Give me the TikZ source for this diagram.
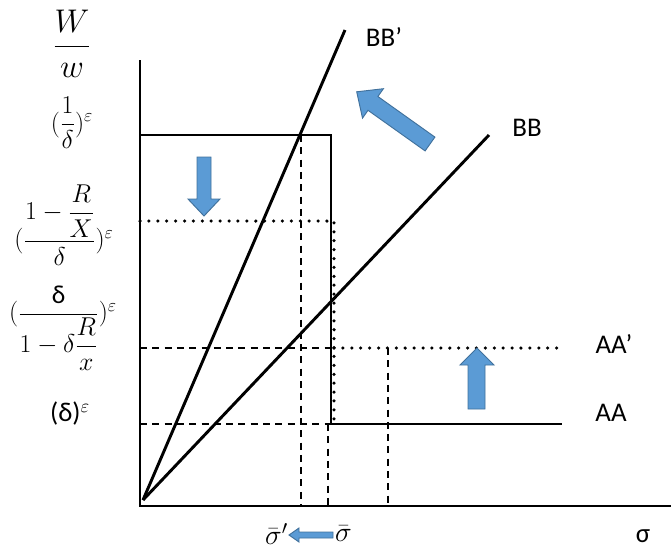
\RequirePackage{fix-cm}
\documentclass[tikz,border=0pt]{standalone}
\usepackage{amsmath}
\usepackage{fontspec}
\setmainfont{Carlito}
\usepackage{tikz}
\usepackage{xcolor}
\definecolor{Bleu}{HTML}{5B9BD5}
\definecolor{BleuFonce}{HTML}{41719C}

\begin{document}
\begin{tikzpicture}[x=0.03cm,y=-0.03cm,
  axe/.style={line width=1.6pt},
  courbe/.style={line width=2.5pt},
  tirets/.style={line width=1.7pt,dash pattern=on 6pt off 4.5pt},
  pointilles/.style={line width=3pt,line cap=round,dash pattern=on 0pt off 7.6pt},
  fleche/.style={fill=Bleu,draw=BleuFonce,line width=0.8pt},
  etiq/.style={font=\fontsize{23}{26}\selectfont},
  maths/.style={font=\fontsize{22}{26}\selectfont},
  sigmabar/.style={font=\fontsize{24}{27}\selectfont,inner sep=0pt}]
\useasboundingbox (0,0) rectangle (671,549);

% Axes
\coordinate (O) at (140,506);
\coordinate (Ohaut) at (140,60);
\coordinate (Odroite) at (671,506);
\draw[axe] (Ohaut) -- (O) -- (Odroite);

% Droites BB et BB'
\coordinate (S) at (143,500);
\coordinate (BBp) at (345,30);
\coordinate (BB) at (489,135);
\draw[courbe] (S) -- (BBp);
\draw[courbe] (S) -- (BB);
\node[etiq] (lbbp) at (384,37) {BB’};
\node[etiq] (lbb) at (527,128) {BB};

% Courbe AA (trait plein)
\draw[courbe] (140,135) -- (331,135) -- (331,424) -- (562,424);
\node[etiq] (laa) at (611,413) {AA};

% Courbe AA' (pointillés)
\draw[pointilles] (140,221) -- (334,221) -- (334,424);
\draw[pointilles] (334,348) -- (562,348);
\node[etiq] (laap) at (614,344) {AA’};

% Tirets
\draw[tirets] (140,348) -- (331,348);
\draw[tirets] (140,424) -- (331,424);
\draw[tirets] (301,135) -- (301,506);
\draw[tirets] (328,424) -- (328,506);
\draw[tirets] (388,348) -- (388,506);

% Flèches bleues
\draw[fleche] (197,157) -- (211,157) -- (211,199) -- (220,199) -- (204,216) -- (188,199) -- (197,199) -- cycle;
\draw[fleche] (468,409) -- (485,409) -- (485,365) -- (494,365) -- (477,348) -- (460,365) -- (468,365) -- cycle;
\draw[fleche] (434.9,137.1) -- (377.9,96.5) -- (383.4,88.7) -- (356.7,91.8) -- (362.5,118.1) -- (368.0,110.3) -- (425.1,150.9) -- cycle;
\draw[fleche] (333,532) -- (299,532) -- (299,528) -- (289,535) -- (299,542) -- (299,538) -- (333,538) -- cycle;

% Axe vertical : étiquettes
\node[font=\fontsize{28}{32}\selectfont] (ww) at (72,44) {$\dfrac{W}{w}$};
\node[maths] (n1) at (72,123) {$(\dfrac{1}{\delta})^{\varepsilon}$};
\node[maths] (n2) at (64,225) {$(\dfrac{1-\dfrac{R}{X}}{\delta})^{\varepsilon}$};
\node[maths] (n3) at (63,328) {$(\dfrac{\text{δ}}{1-\delta\dfrac{R}{x}})^{\varepsilon}$};
\node[etiq] (n4) at (70,414) {(δ)$^{\varepsilon}$};

% Axe horizontal : étiquettes
\node[sigmabar,anchor=east] (sbp) at (288,534) {$\bar{\sigma}'$};
\node[sigmabar,anchor=west] (sb) at (335,534) {$\bar{\sigma}$};
\node[etiq] (sig) at (643,536) {σ};
\end{tikzpicture}
\end{document}
